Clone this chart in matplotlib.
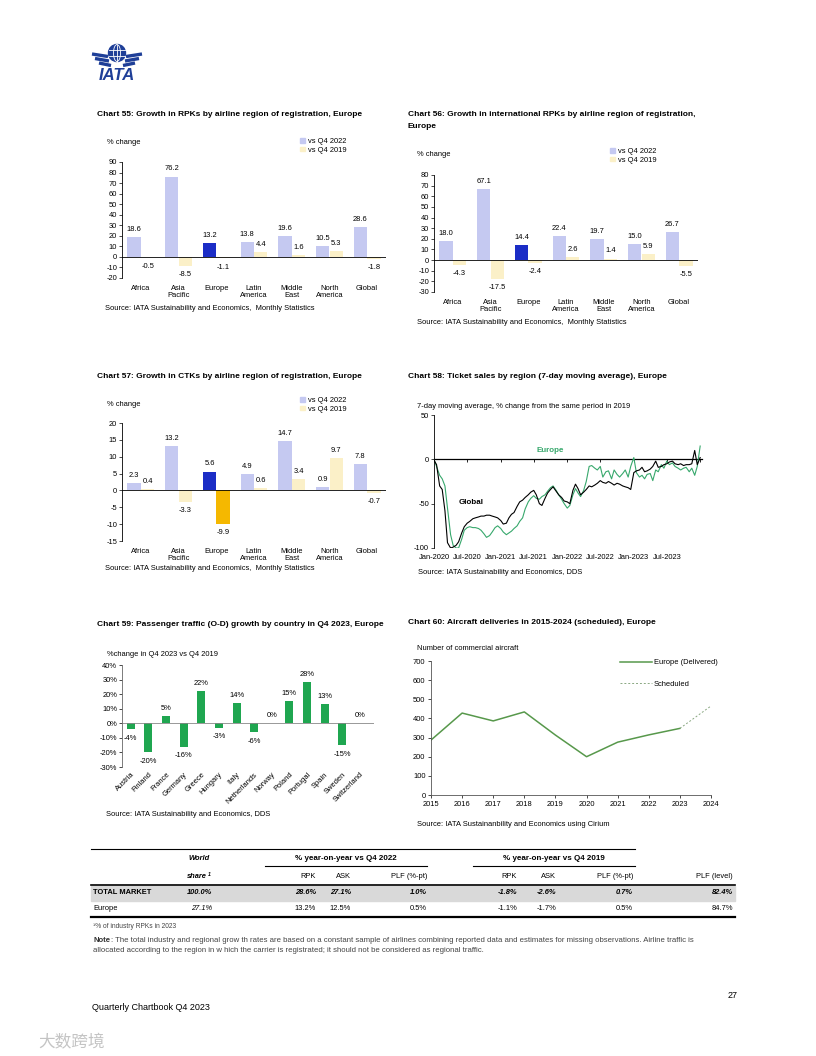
import numpy as np
import pandas as pd
import matplotlib
matplotlib.use("Agg")
import matplotlib.pyplot as plt
import matplotlib.dates as mdates
from matplotlib.lines import Line2D
from matplotlib.patches import Rectangle, Circle, Ellipse, Patch

plt.rcParams['font.family'] = ['Liberation Sans', 'DejaVu Sans']
plt.rcParams['axes.unicode_minus'] = False

# ---- data ----
regions = ["Africa", "Asia\nPacific", "Europe", "Latin\nAmerica", "Middle\nEast", "North\nAmerica", "Global"]
rpk_vs22 = [18.6, 76.2, 13.2, 13.8, 19.6, 10.5, 28.6]
rpk_vs19 = [-0.5, -8.5, -1.1, 4.4, 1.6, 5.3, -1.8]
intl_rpk_vs22 = [18.0, 67.1, 14.4, 22.4, 19.7, 15.0, 26.7]
intl_rpk_vs19 = [-4.3, -17.5, -2.4, 2.6, 1.4, 5.9, -5.5]
ctk_vs22 = [2.3, 13.2, 5.6, 4.9, 14.7, 0.9, 7.8]
ctk_vs19 = [0.4, -3.3, -9.9, 0.6, 3.4, 9.7, -0.7]

# ticket sales, 7-day moving avg, % vs 2019 (read twice a month)
sales_dates = list(pd.date_range("2020-01-01", "2023-12-15", freq="SMS")) + [pd.Timestamp("2023-12-31")]
sales_global = [-1, -6, -30, -34, -58, -94, -100, -99, -97, -93, -83, -76,
                -72, -70, -67, -66, -65, -64, -64, -63, -63, -64, -65, -66,
                -69, -73, -72, -66, -62, -60, -53, -48, -46, -43, -40, -37,
                -35, -40, -50, -52, -44, -38, -34, -31, -36, -40, -43, -47,
                -48, -50, -35, -28, -33, -40, -37, -34, -30, -31, -29, -27,
                -24, -26, -27, -25, -27, -29, -27, -28, -30, -31, -32, -34,
                -15, -13, -12, -9, -14, -13, -11, -8, -2, -9, -8, -6,
                -5, -3, -2, -5, -6, -5, -7, -6, -6, -5, 10, -6, 2]
sales_europe = [0, -8, -18, -22, -30, -55, -85, -97, -100, -100, -90, -80,
                -77, -76, -77, -77, -78, -80, -84, -88, -86, -82, -77, -75,
                -78, -82, -85, -83, -81, -78, -75, -70, -66, -56, -48, -44,
                -41, -44, -45, -42, -40, -36, -32, -30, -35, -40, -45, -50,
                -55, -52, -40, -33, -38, -42, -35, -25, -8, -7, -10, -12,
                -8, -20, -14, -13, -22, -12, -17, -20, -16, -12, -20, -8,
                2, -15, -20, -18, -22, -17, -16, -24, -12, -14, -6, -10,
                -2, -6, -4, -8, -10, -12, -10, -9, -14, -10, -18, -8, 15]
sales_ticks = pd.date_range("2020-01-01", "2023-07-01", freq="6MS")

countries = ["Austria", "Finland", "France", "Germany", "Greece", "Hungary", "Italy",
             "Netherlands", "Norway", "Poland", "Portugal", "Spain", "Sweden", "Switzerland"]
od_growth = [-4, -20, 5, -16, 22, -3, 14, -6, 0, 15, 28, 13, -15, 0.3]

years = [2015, 2016, 2017, 2018, 2019, 2020, 2021, 2022, 2023]
delivered = [287, 428, 387, 434, 313, 200, 276, 314, 348]
sched_years = [2023, 2024]
scheduled = [348, 465]

tbl_head = ["share", "RPK", "ASK", "PLF (%-pt)", "RPK", "ASK", "PLF (%-pt)", "PLF (level)"]
tbl_total = ["100.0%", "28.6%", "27.1%", "1.0%", "-1.8%", "-2.6%", "0.7%", "82.4%"]
tbl_europe = ["27.1%", "13.2%", "12.5%", "0.5%", "-1.1%", "-1.7%", "0.5%", "84.7%"]

LAV = "#c5c9f1"
PALE = "#fbf0c8"
BLUE = "#1b2dc6"
GOLD = "#f5b800"
GREEN = "#1fa650"
SALES_GREEN = "#37a86c"
DELIV = "#57984b"
FS = 5.4

W, H = 816, 1056
fig = plt.figure(figsize=(8.16, 10.56), dpi=100)


def box(x0, y0, x1, y1):
    return [x0 / W, 1 - y1 / H, (x1 - x0) / W, (y1 - y0) / H]


def txt(x, y, s, size=FS, **kw):
    kw.setdefault("va", "center")
    kw.setdefault("ha", "left")
    fig.text(x / W, 1 - y / H, s, fontsize=size, **kw)


def hline(x0, x1, y, lw=0.8, color="black"):
    fig.add_artist(Line2D([x0 / W, x1 / W], [1 - y / H, 1 - y / H], lw=lw, color=color,
                          transform=fig.transFigure))


def value_label(ax, x, v, text):
    if v >= 0:
        ax.annotate(text, (x, v), xytext=(0, 3), textcoords="offset points",
                    ha="center", va="bottom", fontsize=FS)
    else:
        ax.annotate(text, (x, v), xytext=(0, -4), textcoords="offset points",
                    ha="center", va="top", fontsize=FS)


def region_bars(ax, v22, v19, lo, hi, step, eu19, leg_xy):
    x = np.arange(len(regions))
    c22 = [LAV] * len(regions)
    c22[2] = BLUE
    c19 = [PALE] * len(regions)
    c19[2] = eu19
    ax.bar(x - 0.18, v22, 0.35, color=c22)
    ax.bar(x + 0.18, v19, 0.35, color=c19)
    for xi, v in zip(x - 0.18, v22):
        value_label(ax, xi, v, f"{v:.1f}")
    for xi, v in zip(x + 0.18, v19):
        value_label(ax, xi, v, f"{v:.1f}")
    ax.axhline(0, color="black", lw=0.6)
    ax.set_xlim(-0.5, 6.5)
    ax.set_ylim(lo, hi)
    ax.set_yticks(np.arange(lo, hi + 1, step))
    ax.set_xticks(x)
    ax.set_xticklabels(regions, linespacing=1.05)
    ax.tick_params(axis="x", length=0, pad=5, labelsize=FS)
    ax.tick_params(axis="y", length=2, width=0.5, labelsize=FS, pad=1.5)
    for s in ["top", "right", "bottom"]:
        ax.spines[s].set_visible(False)
    ax.spines["left"].set_linewidth(0.6)
    ax.patch.set_alpha(0)
    ax.legend(handles=[Patch(color=LAV), Patch(color=PALE)], labels=["vs Q4 2022", "vs Q4 2019"],
              loc="upper left", bbox_to_anchor=(leg_xy[0] / W, 1 - leg_xy[1] / H),
              bbox_transform=fig.transFigure, frameon=False, fontsize=FS,
              handlelength=0.6, handleheight=0.6, handletextpad=0.5, labelspacing=0.2,
              borderpad=0, borderaxespad=0)


# ---- logo ----
lg = fig.add_axes(box(90, 42, 144, 86))
lg.set_xlim(0, 54)
lg.set_ylim(44, 0)
lg.axis("off")
lg.add_patch(Circle((27, 11), 8.5, color="#1f3f98"))
lg.add_patch(Ellipse((27, 11), 7, 17, fill=False, ec="white", lw=0.6))
lg.plot([27, 27], [2.5, 19.5], color="white", lw=0.6)
lg.plot([19, 35], [8, 8], color="white", lw=0.6)
lg.plot([19, 35], [14, 14], color="white", lw=0.6)
for a, b, c in [(2, 13, 18), (5, 17.5, 19), (9, 22, 21)]:
    lg.plot([a, c], [b - 1, b + 1.5], color="#1f3f98", lw=2.4, solid_capstyle="butt")
    lg.plot([54 - a, 54 - c], [b - 1, b + 1.5], color="#1f3f98", lw=2.4, solid_capstyle="butt")
lg.text(27, 33, "IATA", fontsize=12, fontweight="bold", style="italic", color="#1f3f98",
        ha="center", va="center")

# ---- chart 55 ----
txt(97, 114, "Chart 55: Growth in RPKs by airline region of registration, Europe", size=6, fontweight="bold")
txt(107, 143, "% change")
ax = fig.add_axes(box(122, 162, 386, 278))
region_bars(ax, rpk_vs22, rpk_vs19, -20, 90, 10, PALE, (300, 138))
txt(105, 308, "Source: IATA Sustainability and Economics,  Monthly Statistics")

# ---- chart 56 ----
txt(408, 114, "Chart 56: Growth in international RPKs by airline region of registration,", size=6, fontweight="bold")
txt(408, 127, "Europe", size=6, fontweight="bold")
txt(417, 154, "% change")
ax = fig.add_axes(box(434, 175, 698, 292))
region_bars(ax, intl_rpk_vs22, intl_rpk_vs19, -30, 80, 10, PALE, (610, 148))
txt(417, 322, "Source: IATA Sustainability and Economics,  Monthly Statistics")

# ---- chart 57 ----
txt(97, 376, "Chart 57: Growth in CTKs by airline region of registration, Europe", size=6, fontweight="bold")
txt(107, 404, "% change")
ax = fig.add_axes(box(122, 423, 386, 541))
region_bars(ax, ctk_vs22, ctk_vs19, -15, 20, 5, GOLD, (300, 397))
txt(105, 569, "Source: IATA Sustainability and Economics,  Monthly Statistics")

# ---- chart 58 ----
txt(408, 376, "Chart 58: Ticket sales by region (7-day moving average), Europe", size=6, fontweight="bold")
txt(417, 406, "7-day moving average, % change from the same period in 2019")
ax = fig.add_axes(box(434, 415, 702, 548))
ax.plot(sales_dates, sales_europe, color=SALES_GREEN, lw=0.8)
ax.plot(sales_dates, sales_global, color="black", lw=0.8)
ax.set_xlim(pd.Timestamp("2020-01-01"), pd.Timestamp("2024-01-10"))
ax.set_ylim(-100, 50)
ax.set_yticks([-100, -50, 0, 50])
ax.set_xticks(sales_ticks)
ax.set_xticklabels([d.strftime("%b-%Y") for d in sales_ticks])
ax.tick_params(axis="x", length=0, pad=4, labelsize=FS)
ax.tick_params(axis="y", length=2, width=0.5, labelsize=FS, pad=1.5)
for s in ["top", "right", "bottom"]:
    ax.spines[s].set_visible(False)
ax.spines["left"].set_linewidth(0.6)
zero = ax.secondary_xaxis(2 / 3)
zero.set_xticks(mdates.date2num(pd.date_range("2020-01-01", "2024-01-01", freq="6MS")))
zero.tick_params(direction="in", length=2.5, width=0.6, labeltop=False, labelbottom=False)
zero.spines["top"].set_linewidth(0.9)
ax.text(pd.Timestamp("2020-07-25"), -49, "Global", fontsize=5.8, fontweight="bold", ha="center", va="center")
ax.text(pd.Timestamp("2021-10-01"), 10, "Europe", fontsize=5.8, fontweight="bold", color=SALES_GREEN,
        ha="center", va="center")
txt(418, 572, "Source: IATA Sustainability and Economics, DDS")

# ---- chart 59 ----
txt(97, 624, "Chart 59: Passenger traffic (O-D) growth by country in Q4 2023, Europe", size=6, fontweight="bold")
txt(107, 655, "%change in Q4 2023 vs Q4 2019")
ax = fig.add_axes(box(122, 665, 374, 767))
xc = np.arange(len(countries))
ax.bar(xc, od_growth, 0.45, color=GREEN)
for xi, v in zip(xc, od_growth):
    value_label(ax, xi, v, f"{v:.0f}%")
ax.axhline(0, color="#888888", lw=0.6)
ax.set_xlim(-0.5, len(countries) - 0.2)
ax.set_ylim(-30, 40)
ax.set_yticks(np.arange(-30, 41, 10))
ax.set_yticklabels([f"{v}%" for v in np.arange(-30, 41, 10)])
ax.set_xticks(xc)
ax.set_xticklabels(countries, rotation=45, ha="right", rotation_mode="anchor")
ax.tick_params(axis="x", length=0, pad=3, labelsize=FS)
ax.tick_params(axis="y", length=2, width=0.5, labelsize=FS, pad=1.5)
for s in ["top", "right", "bottom"]:
    ax.spines[s].set_visible(False)
ax.spines["left"].set_linewidth(0.6)
ax.spines["left"].set_color("#666666")
ax.patch.set_alpha(0)
txt(106, 814, "Source: IATA Sustainability and Economics, DDS")

# ---- chart 60 ----
txt(408, 623, "Chart 60: Aircraft deliveries in 2015-2024 (scheduled), Europe", size=6, fontweight="bold")
txt(417, 649, "Number of commercial aircraft")
ax = fig.add_axes(box(431, 661, 711, 795))
ax.plot(years, delivered, color=DELIV, lw=1.1, label="Europe (Delivered)")
ax.plot(sched_years, scheduled, color="#8aa882", lw=0.7, ls=(0, (2, 2)), label="Scheduled")
ax.set_xlim(2015, 2024)
ax.set_ylim(0, 700)
ax.set_xticks(range(2015, 2025))
ax.set_yticks(range(0, 701, 100))
ax.tick_params(length=2, width=0.5, labelsize=FS, pad=2)
for s in ["top", "right"]:
    ax.spines[s].set_visible(False)
for s in ["left", "bottom"]:
    ax.spines[s].set_linewidth(0.6)
    ax.spines[s].set_color("#555555")
ax.legend(loc="upper left", bbox_to_anchor=(620 / W, 1 - 659 / H), bbox_transform=fig.transFigure,
          frameon=False, fontsize=FS, handlelength=4.2, handletextpad=0.3, labelspacing=1.9,
          borderpad=0, borderaxespad=0)
txt(417, 824, "Source: IATA Sustainanbility and Economics using Cirium")

# ---- table ----
hline(91, 635, 849, lw=0.8)
txt(210, 858, "World", fontweight="bold", style="italic", ha="right")
txt(346, 858, "% year-on-year vs Q4 2022", fontweight="bold", ha="center", size=5.8)
txt(554, 858, "% year-on-year vs Q4 2019", fontweight="bold", ha="center", size=5.8)
hline(265, 427, 866, lw=0.8)
hline(473, 635, 866, lw=0.8)
col_right = [207, 316, 351, 427, 517, 556, 633, 733]
for x, s in zip(col_right, tbl_head):
    if s == "share":
        txt(x, 877, s, fontweight="bold", style="italic", ha="right")
        txt(x + 1, 874, "1", size=3.8, fontweight="bold", style="italic")
    else:
        txt(x, 877, s, ha="right")
hline(91, 735, 885, lw=1.2)
fig.add_artist(Rectangle((91 / W, 1 - 901 / H), 644 / W, 15 / H, color="#d9d9d9",
                         transform=fig.transFigure, zorder=0))
txt(93, 893, "TOTAL MARKET", fontweight="bold")
for x, s in zip([212] + col_right[1:], tbl_total):
    txt(x, 893, s, fontweight="bold", style="italic", ha="right")
txt(93, 909, "Europe")
for i, (x, s) in enumerate(zip([212] + col_right[1:], tbl_europe)):
    txt(x, 909, s, ha="right", style="italic" if i == 0 else "normal")
hline(91, 735, 917, lw=1.6)
txt(93, 926, "\u00b9% of industry RPKs in 2023", size=4.8, color="#444444")
txt(93, 940, "Note", size=5.6, fontweight="bold", color="#333333")
txt(111, 940, ": The total industry and regional grow th rates are based on a constant sample of airlines "
    "combining reported data and estimates for missing observations. Airline traffic is", size=5.6, color="#444444")
txt(93, 951, "allocated according to the region in w hich the carrier is registrated; it should not be "
    "considered as regional traffic.", size=5.6, color="#444444")

# ---- footer ----
txt(728, 996, "27", size=6.5)
txt(92, 1007, "Quarterly Chartbook Q4 2023", size=6.5)
txt(38, 1043, "大数跨境", size=12, color="#c4c4c4", family=["Noto Sans CJK SC", "DejaVu Sans"])

fig.savefig("out.png", dpi=100)
